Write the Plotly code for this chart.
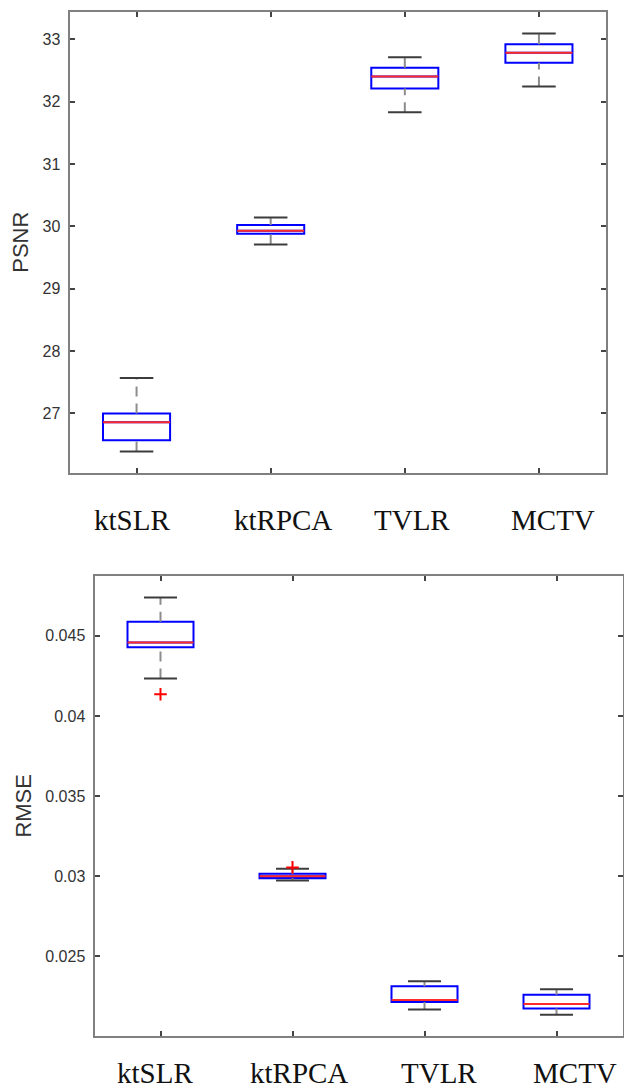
import plotly.graph_objects as go

# ---------------- data ----------------
categories = ["ktSLR", "ktRPCA", "TVLR", "MCTV"]

psnr_lower = [26.39, 29.71, 31.83, 32.24]
psnr_q1 = [26.57, 29.88, 32.21, 32.62]
psnr_median = [26.86, 29.93, 32.40, 32.78]
psnr_q3 = [27.00, 30.02, 32.54, 32.92]
psnr_upper = [27.57, 30.14, 32.71, 33.09]
psnr_ticks = [27, 28, 29, 30, 31, 32, 33]
psnr_ticktext = ["27", "28", "29", "30", "31", "32", "33"]

rmse_lower = [0.04234, 0.02973, 0.02169, 0.02135]
rmse_q1 = [0.04429, 0.02988, 0.02215, 0.02175]
rmse_median = [0.04458, 0.03000, 0.02227, 0.02202]
rmse_q3 = [0.04588, 0.03015, 0.02313, 0.02261]
rmse_upper = [0.04739, 0.03046, 0.02345, 0.02295]
rmse_outlier_cat = ["ktSLR", "ktRPCA"]
rmse_outlier_val = [0.04135, 0.03055]
rmse_ticks = [0.025, 0.03, 0.035, 0.04, 0.045]
rmse_ticktext = ["0.025", "0.03", "0.035", "0.04", "0.045"]

# ---------------- style ----------------
W, H = 624, 1088
BOX_W = 0.5
CAP_HALF = 0.125
AXIS_COLOR = "#808080"
TICK_COLOR = "#444444"
TEXT_COLOR = "#333333"
SANS = "Liberation Sans, Arial, sans-serif"
SERIF = "Liberation Serif, Times New Roman, serif"

fig = go.Figure()
pos = {c: i + 1 for i, c in enumerate(categories)}
xs = [pos[c] for c in categories]


def add_panel(xa, ya, lower, q1, med, q3, upper, out_cat=None, out_val=None):
    # dashed whiskers
    wx, wy = [], []
    for x, lo, a, b, up in zip(xs, lower, q1, q3, upper):
        wx += [x, x, None, x, x, None]
        wy += [b, up, None, lo, a, None]
    fig.add_trace(go.Scatter(x=wx, y=wy, mode="lines", xaxis=xa, yaxis=ya,
                             line=dict(color="#8c8c8c", width=2, dash="10px,7px"),
                             hoverinfo="skip", showlegend=False))
    # whisker caps
    cx, cy = [], []
    for x, lo, up in zip(xs, lower, upper):
        cx += [x - CAP_HALF, x + CAP_HALF, None, x - CAP_HALF, x + CAP_HALF, None]
        cy += [up, up, None, lo, lo, None]
    fig.add_trace(go.Scatter(x=cx, y=cy, mode="lines", xaxis=xa, yaxis=ya,
                             line=dict(color="#3c3c3c", width=2),
                             hoverinfo="skip", showlegend=False))
    # boxes
    fig.add_trace(go.Box(x=xs, q1=q1, median=med, q3=q3, lowerfence=q1, upperfence=q3,
                         width=BOX_W, whiskerwidth=0, boxpoints=False,
                         line=dict(color="#0000ff", width=2),
                         fillcolor="rgba(0,0,0,0)", xaxis=xa, yaxis=ya,
                         showlegend=False))
    # red medians
    mx, my = [], []
    for x, m in zip(xs, med):
        mx += [x - BOX_W / 2, x + BOX_W / 2, None]
        my += [m, m, None]
    fig.add_trace(go.Scatter(x=mx, y=my, mode="lines", xaxis=xa, yaxis=ya,
                             line=dict(color="#ff2a2a", width=2),
                             hoverinfo="skip", showlegend=False))
    if out_cat:
        fig.add_trace(go.Scatter(x=[pos[c] for c in out_cat], y=out_val, mode="markers",
                                 xaxis=xa, yaxis=ya,
                                 marker=dict(symbol="cross-thin", size=9,
                                             line=dict(color="#ff0000", width=2)),
                                 hoverinfo="skip", showlegend=False))


add_panel("x", "y", psnr_lower, psnr_q1, psnr_median, psnr_q3, psnr_upper)
add_panel("x2", "y2", rmse_lower, rmse_q1, rmse_median, rmse_q3, rmse_upper,
          rmse_outlier_cat, rmse_outlier_val)

common_x = dict(range=[0.5, 4.5], tickvals=xs, showticklabels=False,
                ticks="inside", ticklen=5, tickwidth=1.5, tickcolor=TICK_COLOR,
                showline=True, linecolor=AXIS_COLOR, linewidth=2, mirror="ticks",
                showgrid=False, zeroline=False, fixedrange=True)
common_y = dict(ticks="inside", ticklen=5, tickwidth=1.5, tickcolor=TICK_COLOR,
                showline=True, linecolor=AXIS_COLOR, linewidth=2, mirror="ticks",
                showgrid=False, zeroline=False, ticklabelstandoff=4,
                tickfont=dict(family=SANS, size=16, color=TEXT_COLOR))

fig.update_layout(
    width=W, height=H,
    margin=dict(l=0, r=0, t=0, b=0),
    paper_bgcolor="white", plot_bgcolor="white",
    showlegend=False,
    xaxis=dict(domain=[69.5 / W, 606 / W], anchor="y", **common_x),
    yaxis=dict(domain=[1 - 472.7 / H, 1 - 11.7 / H], anchor="x",
               range=[26.05, 33.44], tickvals=psnr_ticks, ticktext=psnr_ticktext,
               title=dict(text="PSNR", standoff=8,
                          font=dict(family=SANS, size=22, color=TEXT_COLOR)),
               **common_y),
    xaxis2=dict(domain=[94.5 / W, 622.5 / W], anchor="y2", **common_x),
    yaxis2=dict(domain=[1 - 1036 / H, 1 - 575.7 / H], anchor="x2",
                range=[0.02003, 0.04875], tickvals=rmse_ticks, ticktext=rmse_ticktext,
                title=dict(text="RMSE", standoff=8,
                           font=dict(family=SANS, size=22, color=TEXT_COLOR)),
                **common_y),
)

top_shift = [-5, 12, 7, 14]
bot_shift = [-6, 6, 14, 18]
for c, s in zip(categories, top_shift):
    fig.add_annotation(x=pos[c], y=0, xref="x", yref="y domain", yanchor="top",
                       yshift=-29, xshift=s, text=c, showarrow=False,
                       font=dict(family=SERIF, size=29, color="#111111"))
for c, s in zip(categories, bot_shift):
    fig.add_annotation(x=pos[c], y=0, xref="x2", yref="y2 domain", yanchor="top",
                       yshift=-19, xshift=s, text=c, showarrow=False,
                       font=dict(family=SERIF, size=29, color="#111111"))

fig.write_html("out.html")
